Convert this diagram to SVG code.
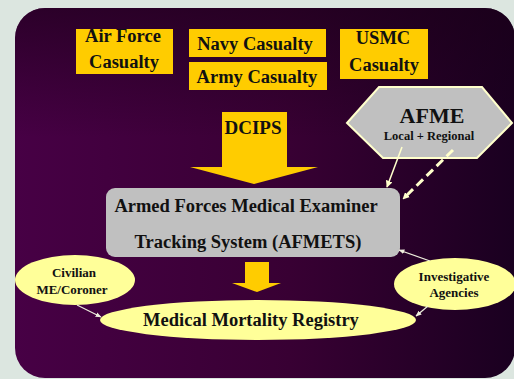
<svg xmlns="http://www.w3.org/2000/svg" width="514" height="379" viewBox="0 0 514 379">
<defs>
<linearGradient id="bg" x1="0" y1="0" x2="1" y2="0">
<stop offset="0" stop-color="#470045"/>
<stop offset="0.55" stop-color="#380033"/>
<stop offset="1" stop-color="#1a0020"/>
</linearGradient>
<linearGradient id="bgv" x1="0" y1="0" x2="0" y2="1">
<stop offset="0" stop-color="#1a0018" stop-opacity="0.6"/>
<stop offset="0.35" stop-color="#1a0018" stop-opacity="0"/>
</linearGradient>
<marker id="ah" viewBox="0 0 10 10" refX="9" refY="5" markerWidth="7" markerHeight="7" orient="auto" markerUnits="userSpaceOnUse">
<path d="M0,0 L10,5 L0,10 z" fill="#ffffcc"/>
</marker>
<marker id="ahs" viewBox="0 0 10 10" refX="9" refY="5" markerWidth="6" markerHeight="6" orient="auto" markerUnits="userSpaceOnUse">
<path d="M0,1 L10,5 L0,9 z" fill="#eeeedd"/>
</marker>
</defs>
<style>
text{font-family:"Liberation Serif","Times New Roman",serif;font-weight:bold;fill:#111;text-anchor:middle}
.y{fill:#ffcc00}
.e{fill:#ffff99}
.c{stroke:#eeeedd;stroke-width:1.2;fill:none}
</style>
<rect width="514" height="379" fill="#dce6e0"/>
<rect x="15" y="8" width="500" height="370" rx="30" fill="url(#bg)"/>
<rect x="15" y="8" width="500" height="370" rx="30" fill="url(#bgv)"/>

<g id="airforce"><rect class="y" x="76" y="29" width="97" height="45"/><text x="123" y="42" font-size="18.5">Air Force</text><text x="124" y="68" font-size="18.5">Casualty</text></g>
<g id="navy"><rect class="y" x="189" y="29" width="137" height="28"/><text x="255" y="50" font-size="18.5">Navy Casualty</text></g>
<g id="army"><rect class="y" x="189" y="62" width="138" height="28"/><text x="257" y="83" font-size="18.5">Army Casualty</text></g>
<g id="usmc"><rect class="y" x="340" y="29" width="88" height="50"/><text x="383" y="44" font-size="18.5">USMC</text><text x="384" y="71" font-size="18.5">Casualty</text></g>

<g id="dcips"><path class="y" d="M222,112 H287 V167 H318 L254,184 L190,167 H222 Z"/><text x="253" y="134" font-size="19">DCIPS</text></g>

<g id="afmets"><rect x="106" y="188" width="294" height="69" rx="9" fill="#c0c0c0"/><text x="246" y="212" font-size="18.5">Armed Forces Medical Examiner</text><text x="248" y="248" font-size="18.5">Tracking System (AFMETS)</text></g>

<g id="afme"><polygon points="347,123 379,87 482,87 512,123 477,158 383,158" fill="#c0c0c0" stroke="#ffffcc" stroke-width="2"/><text x="432" y="123" font-size="22">AFME</text><text x="429" y="140" font-size="12.5">Local + Regional</text></g>

<g id="downarrow"><path class="y" d="M245,262 H269 V283 H281 L257,292 L232,283 H245 Z"/></g>

<g id="civilian"><ellipse class="e" cx="75" cy="280" rx="60" ry="25"/><text x="74" y="277" font-size="13">Civilian</text><text x="72" y="294" font-size="13">ME/Coroner</text></g>
<g id="investigative"><ellipse class="e" cx="455" cy="284" rx="61" ry="26"/><text x="454" y="281" font-size="13">Investigative</text><text x="454" y="297" font-size="13">Agencies</text></g>
<g id="registry"><ellipse class="e" cx="258" cy="320" rx="158" ry="20"/><text x="251" y="326" font-size="18.5">Medical Mortality Registry</text></g>

<g id="connectors">
<line x1="402" y1="147" x2="387" y2="187" stroke="#ffffcc" stroke-width="1.5" marker-end="url(#ah)"/>
<line x1="453" y1="150" x2="403" y2="199" stroke="#ffffcc" stroke-width="3" stroke-dasharray="9,5" marker-end="url(#ah)"/>
<line class="c" x1="77" y1="305" x2="101" y2="317" marker-end="url(#ahs)"/>
<line class="c" x1="428" y1="306" x2="416" y2="316" marker-end="url(#ahs)"/>
<line class="c" x1="430" y1="261" x2="399" y2="250" marker-end="url(#ahs)"/>
</g>
</svg>
